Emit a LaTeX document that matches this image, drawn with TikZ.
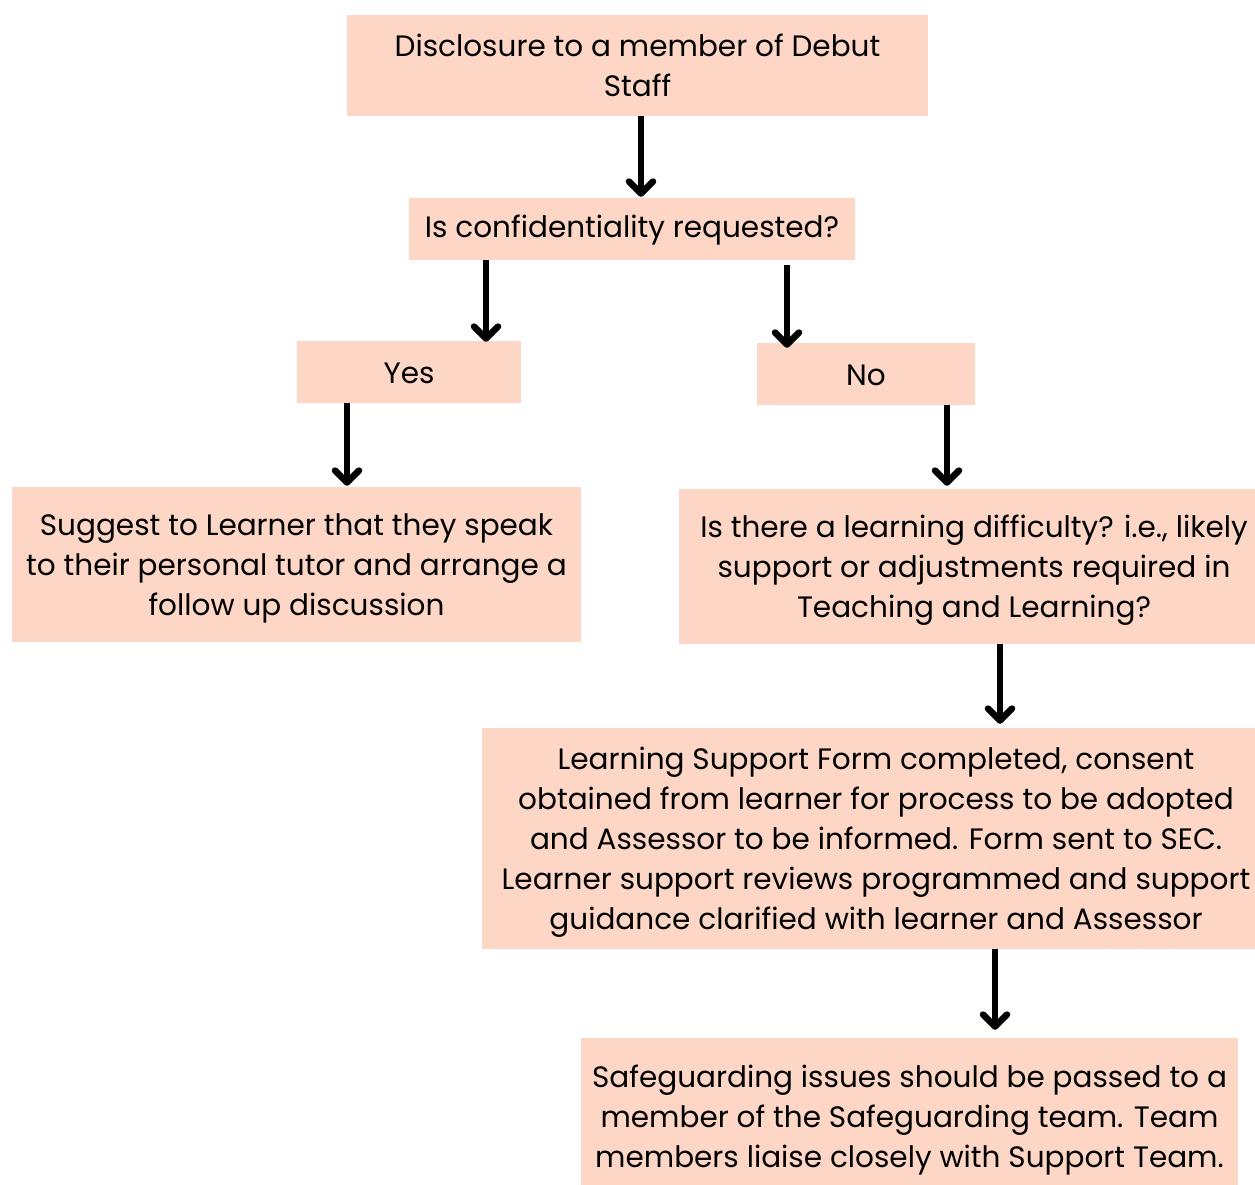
\documentclass[tikz,border=0pt]{standalone}
\usepackage{fontspec}
\setmainfont{Poppins}
\usetikzlibrary{arrows.meta}
\definecolor{peach}{RGB}{253,214,197}
\tikzset{
  box/.style={fill=peach, draw=none, inner sep=0pt, anchor=center},
  boxtext/.style={align=center, inner sep=0pt, yshift=-3.5pt,
    font={\fontsize{29.5}{40}\selectfont}},
  boxtextshort/.style={boxtext, yshift=2.5pt},
  arr/.style={line width=6.5pt, -{Straight Barb[length=12pt,width=24pt,round]}}
}
\begin{document}
\begin{tikzpicture}[x=1pt,y=-1pt]
\useasboundingbox (0,0) rectangle (1255,1185);
\node[box, minimum width=581, minimum height=101,
  label={[boxtextshort, yshift=1pt]center:{Disclosure to a member of Debut\\Staff}}] (n1) at (637.5,65.5) {};
\node[box, minimum width=446, minimum height=62,
  label={[boxtextshort]center:{Is confidentiality requested?}}] (n2) at (632,229) {};
\node[box, minimum width=224, minimum height=62,
  label={[boxtextshort]center:{Yes}}] (yes) at (409,372) {};
\node[box, minimum width=218, minimum height=62,
  label={[boxtextshort]center:{No}}] (no) at (866,374) {};
\node[box, minimum width=569, minimum height=155,
  label={[boxtext]center:{Suggest to Learner that they speak\\to their personal tutor and arrange a\\follow up discussion}}] (sug) at (296.5,564.5) {};
\node[box, minimum width=590, minimum height=155,
  label={[boxtext]center:{Is there a learning difficulty? i.e., likely\\support or adjustments required in\\Teaching and Learning?}}] (diff) at (974,566.5) {};
\node[box, minimum width=788, minimum height=221,
  label={[boxtext]center:{Learning Support Form completed, consent\\obtained from learner for process to be adopted\\and Assessor to be informed. Form sent to SEC.\\Learner support reviews programmed and support\\guidance clarified with learner and Assessor}}] (form) at (876,838.5) {};
\node[box, minimum width=657, minimum height=158,
  label={[boxtext]center:{Safeguarding issues should be passed to a\\member of the Safeguarding team. Team\\members liaise closely with Support Team.}}] (safe) at (909.5,1117) {};
\draw[arr] ([xshift=3.5]n1.south) -- ([xshift=9,yshift=1]n2.north);
\draw[arr] ([xshift=-146]n2.south) -- ([xshift=77,yshift=-1]yes.north);
\draw[arr] ([xshift=155,yshift=-5]n2.south) -- ([xshift=-79,yshift=-5]no.north);
\draw[arr] ([xshift=-62]yes.south) -- ([xshift=50.5,yshift=1]sug.north);
\draw[arr] ([xshift=81]no.south) -- ([xshift=-27,yshift=3]diff.north);
\draw[arr] ([xshift=26]diff.south) -- ([xshift=124,yshift=4]form.north);
\draw[arr] ([xshift=119]form.south) -- ([xshift=85.5,yshift=8]safe.north);
\end{tikzpicture}
\end{document}
